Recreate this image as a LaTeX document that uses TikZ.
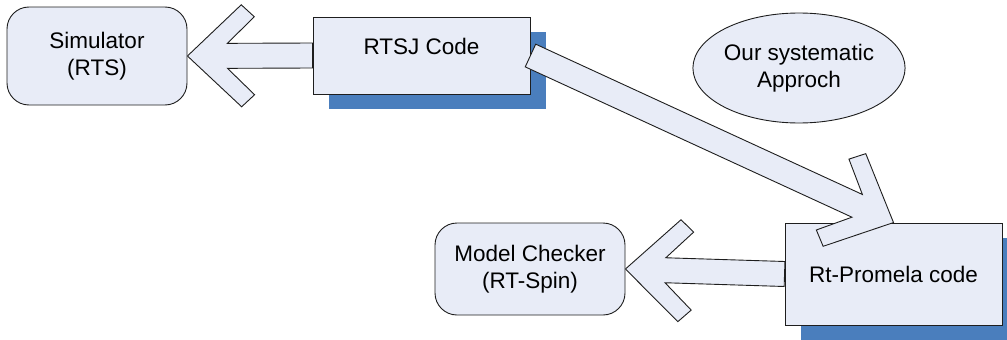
\documentclass[tikz,border=0pt]{standalone}
\usepackage{fontspec}
\setmainfont{Liberation Sans}
\usetikzlibrary{calc,shapes.geometric}

\definecolor{boxfill}{RGB}{232,236,247}
\definecolor{shadowblue}{RGB}{74,126,189}
\definecolor{edge}{RGB}{30,30,30}

\pgfdeclarelayer{shadowlayer}
\pgfdeclarelayer{arrowlayer}
\pgfsetlayers{shadowlayer,arrowlayer,main}

% Block arrow with a chevron head: tip at #1, tail end at #2
\newcommand\blockarrow[2]{%
  \path let \p1=(#1), \p2=(#2) in
    \pgfextra{%
      \pgfmathsetmacro\baang{atan2(\y2-\y1,\x2-\x1)}%
      \pgfmathsetmacro\balen{veclen(\x2-\x1,\y2-\y1)}%
      \global\let\gbaang\baang
      \global\let\gbalen\balen};
  \begin{scope}[shift={(#1)}, rotate=\gbaang]
    \filldraw[arrowbody] (0,0) -- (54,51) -- (67,39) -- (40,12.5)
      -- (\gbalen,12.5) -- (\gbalen,-12.5) -- (40,-12.5)
      -- (67,-39) -- (54,-51) -- cycle;
  \end{scope}}

\tikzset{
  every node/.style={font=\fontsize{22.5}{27}\selectfont, align=center, inner sep=0pt},
  basebox/.style={draw=edge, line width=0.9pt, fill=boxfill},
  roundbox/.style={basebox, rectangle, rounded corners=22pt},
  codebox/.style={basebox, rectangle},
  arrowbody/.style={draw=edge, line width=0.9pt, fill=boxfill, line join=miter},
  shadowfill/.style={fill=shadowblue, draw=none},
}

\begin{document}
\begin{tikzpicture}[x=1pt, y=1pt]
  \useasboundingbox (0,0) rectangle (1007,-340);
  \clip (0,0) rectangle (1007,-340);

  % tools
  \node[roundbox, minimum width=180pt, minimum height=98pt] (sim) at (97,-56) {Simulator\\(RTS)};
  \node[roundbox, minimum width=190pt, minimum height=92pt] (mc) at (530,-269) {Model Checker\\(RT-Spin)};

  % code boxes
  \node[codebox, minimum width=217pt, minimum height=77pt, text height=16pt, text depth=19pt]
    (rtsj) at (421.5,-55.5) {RTSJ Code};
  \node[codebox, minimum width=217pt, minimum height=102pt]
    (rtp) at (893.5,-274) {Rt-Promela code};

  % shadows under the code boxes
  \begin{pgfonlayer}{shadowlayer}
    \fill[shadowfill] ([shift={(16,-15)}]rtsj.south west) rectangle ([shift={(16,-15)}]rtsj.north east);
    \fill[shadowfill] ([shift={(16,-15)}]rtp.south west) rectangle ([shift={(16,-15)}]rtp.north east);
  \end{pgfonlayer}

  % arrows pointing into the tools, tails tucked under the code boxes
  \begin{pgfonlayer}{arrowlayer}
    \blockarrow{sim.east}{rtsj.west}
    \blockarrow{mc.east}{rtp.west}
  \end{pgfonlayer}

  % translation arrow from the RTSJ code to the Rt-Promela code
  \blockarrow{rtp.north}{rtsj.east}

  % approach ellipse
  \node[ellipse, basebox, minimum width=212pt, minimum height=110pt]
    (appr) at (799,-68) {Our systematic\\Approch};
\end{tikzpicture}
\end{document}
